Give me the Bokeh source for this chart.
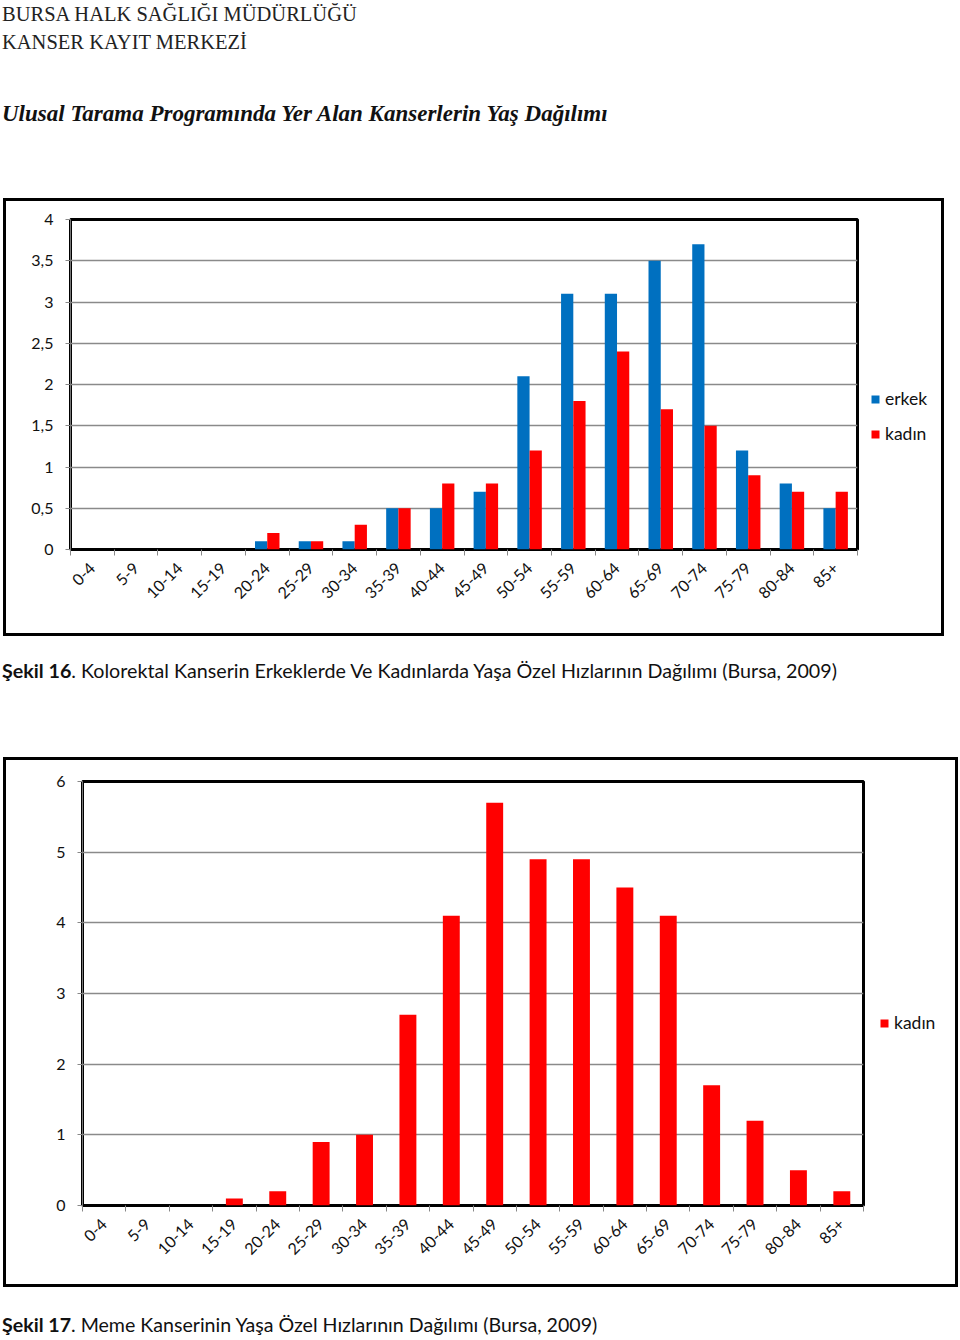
import math
from bokeh.plotting import figure
from bokeh.models import (Range1d, LinearAxis, FixedTicker,
                          Legend, LegendItem, Div, ColumnDataSource)
from bokeh.transform import dodge
from bokeh.layouts import column, row
from bokeh.embed import file_html
from bokeh.resources import INLINE

# ---------------- data ----------------
age_groups = ["0-4", "5-9", "10-14", "15-19", "20-24", "25-29", "30-34", "35-39", "40-44",
              "45-49", "50-54", "55-59", "60-64", "65-69", "70-74", "75-79", "80-84", "85+"]
kolorektal_erkek = [0, 0, 0, 0, 0.1, 0.1, 0.1, 0.5, 0.5, 0.7, 2.1, 3.1, 3.1, 3.5, 3.7, 1.2, 0.8, 0.5]
kolorektal_kadin = [0, 0, 0, 0, 0.2, 0.1, 0.3, 0.5, 0.8, 0.8, 1.2, 1.8, 2.4, 1.7, 1.5, 0.9, 0.7, 0.7]
meme_kadin = [0, 0, 0, 0.1, 0.2, 0.9, 1.0, 2.7, 4.1, 5.7, 4.9, 4.9, 4.5, 4.1, 1.7, 1.2, 0.5, 0.2]

y1_ticks = [0, 0.5, 1, 1.5, 2, 2.5, 3, 3.5, 4]
y1_labels = ["0", "0,5", "1", "1,5", "2", "2,5", "3", "3,5", "4"]
y2_ticks = [0, 1, 2, 3, 4, 5, 6]
y2_labels = ["0", "1", "2", "3", "4", "5", "6"]

series_names = ["erkek", "kadın"]
series_colors = ["#0070C0", "#FF0000"]
header_lines = ["BURSA HALK SAĞLIĞI MÜDÜRLÜĞÜ", "KANSER KAYIT MERKEZİ"]
main_title = "Ulusal Tarama Programında Yer Alan Kanserlerin Yaş Dağılımı"
caption1 = ("Şekil 16", ". Kolorektal Kanserin Erkeklerde Ve Kadınlarda Yaşa Özel Hızlarının Dağılımı (Bursa, 2009)")
caption2 = ("Şekil 17", ". Meme Kanserinin Yaşa Özel Hızlarının Dağılımı (Bursa, 2009)")

BLUE, RED = series_colors
GRID = "#8a8a8a"
FONT = "Lato"
BORDER = "3px solid black"

n_groups = len(age_groups)
group_centers = [i + 0.5 for i in range(n_groups)]      # category slot centres
group_bounds = list(range(n_groups + 1))                 # category slot boundaries


def make_fig(width, height, ymax, ticks, labels, mb):
    p = figure(width=width, height=height,
               x_range=Range1d(0, n_groups), y_range=Range1d(0, ymax),
               x_axis_location=None,
               output_backend="svg", toolbar_location=None)
    p.min_border_left, p.min_border_right, p.min_border_top, p.min_border_bottom = mb
    p.background_fill_color = "white"
    p.border_fill_color = "white"
    p.outline_line_color = "black"
    p.outline_line_width = 3
    p.styles = {"border-left": BORDER, "border-top": BORDER, "border-bottom": BORDER}
    for g in p.grid:
        if g.dimension == 0:
            g.visible = False

    ya = p.yaxis[0]
    ya.axis_label = None
    ya.ticker = FixedTicker(ticks=ticks)
    ya.major_label_overrides = {t: l for t, l in zip(ticks, labels)}
    ya.axis_line_color = "#777777"
    ya.axis_line_width = 1
    ya.major_tick_line_color = "#888888"
    ya.major_tick_out = 5
    ya.major_tick_in = 0
    ya.minor_tick_line_color = None
    ya.major_label_text_font = FONT
    ya.major_label_text_font_size = "16px"
    ya.major_label_text_color = "#111111"
    ya.major_label_standoff = 12

    p.ygrid.grid_line_color = GRID
    p.ygrid.grid_line_width = 1.5

    label_axis = LinearAxis(ticker=FixedTicker(ticks=group_centers, minor_ticks=group_bounds),
                            major_label_overrides={c: a for c, a in zip(group_centers, age_groups)},
                            major_label_orientation=math.pi / 4,
                            major_tick_line_color=None, axis_line_color=None,
                            minor_tick_line_color="#888888", minor_tick_out=6, minor_tick_in=0,
                            major_tick_out=6, major_tick_in=0,
                            major_label_text_font=FONT, major_label_text_font_size="16px",
                            major_label_text_color="#111111", major_label_standoff=10)
    p.add_layout(label_axis, "below")
    return p


def make_legend_fig(width, height, src, fields, names, colors, loc):
    lf = figure(width=width, height=height, x_range=Range1d(0, 1), y_range=Range1d(0, 1),
                x_axis_location=None, y_axis_location=None,
                output_backend="svg", toolbar_location=None, min_border=0)
    lf.outline_line_color = None
    lf.grid.visible = False
    lf.styles = {"border-right": BORDER, "border-top": BORDER, "border-bottom": BORDER}
    items = []
    for field, name, col in zip(fields, names, colors):
        # hidden renderer of the same series: only its legend swatch is shown
        r = lf.vbar(x="x", top=field, width=0.5, source=src, fill_color=col,
                    line_color=None, visible=False)
        items.append(LegendItem(label=name, renderers=[r]))
    lf.add_layout(Legend(items=items, location=loc,
                         border_line_color=None, background_fill_alpha=0,
                         inactive_fill_alpha=0,
                         glyph_width=10, glyph_height=10, label_height=18,
                         label_text_font=FONT, label_text_font_size="17.5px",
                         label_text_color="#111111",
                         spacing=14, padding=0, margin=0, label_standoff=5), "center")
    return lf


# ---------------- chart 1 ----------------
src1 = ColumnDataSource(dict(x=group_centers, erkek=kolorektal_erkek, kadin=kolorektal_kadin))
p1 = make_fig(860, 438, 4, y1_ticks, y1_labels, (64, 9, 18, 90))
p1.vbar(x=dodge("x", -0.14), top="erkek", width=0.28, source=src1, fill_color=BLUE, line_color=None)
p1.vbar(x=dodge("x", 0.14), top="kadin", width=0.28, source=src1, fill_color=RED, line_color=None)
leg1 = make_legend_fig(81, 438, src1, ["erkek", "kadin"], series_names, series_colors, (7, 105))
chart1 = row(p1, leg1, spacing=0, margin=(0, 0, 0, 3))

# ---------------- chart 2 ----------------
src2 = ColumnDataSource(dict(x=group_centers, kadin=meme_kadin))
p2 = make_fig(866, 530, 6, y2_ticks, y2_labels, (76, 9, 21, 85))
p2.vbar(x="x", top="kadin", width=0.39, source=src2, fill_color=RED, line_color=None)
leg2 = make_legend_fig(89, 530, src2, ["kadin"], series_names[1:], series_colors[1:], (10, 172))
chart2 = row(p2, leg2, spacing=0, margin=(0, 0, 0, 3))

# ---------------- texts ----------------
header = Div(width=940, height=198, margin=0, text=(
    "<div style=\"padding-left:2px;font-family:'Liberation Serif';font-size:20.5px;line-height:28px;color:#222\">"
    + "<br>".join(header_lines) + "</div>"
    "<div style=\"padding-left:2px;margin-top:44px;font-family:'Liberation Serif';font-weight:bold;"
    "font-style:italic;font-size:23px;line-height:28px;color:#111\">" + main_title + "</div>"))

cap1 = Div(width=940, height=121, margin=0, text=(
    "<div style=\"padding-left:2px;padding-top:23px;font-family:'Lato';font-size:19.7px;line-height:24px;color:#111\">"
    "<b>" + caption1[0] + "</b>" + caption1[1] + "</div>"))
cap2 = Div(width=940, height=50, margin=0, text=(
    "<div style=\"padding-left:2px;padding-top:26px;font-family:'Lato';font-size:19.6px;line-height:24px;color:#111\">"
    "<b>" + caption2[0] + "</b>" + caption2[1] + "</div>"))

layout = column(header, chart1, cap1, chart2, cap2, spacing=0)
open("out.html", "w").write(file_html(layout, INLINE))
